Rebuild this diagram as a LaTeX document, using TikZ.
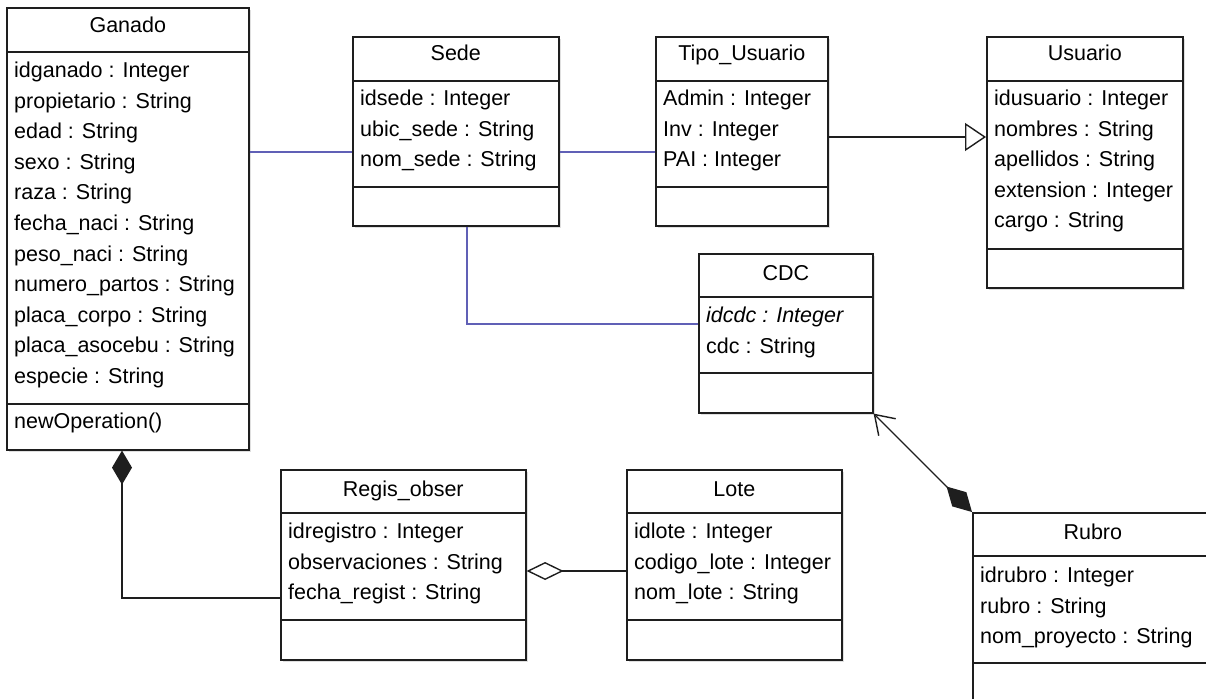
\documentclass[tikz,border=0pt]{standalone}
\usepackage{fontspec}
\setmainfont{Liberation Sans}
\usetikzlibrary{arrows.meta,shadows}

\definecolor{linkblue}{RGB}{96,96,182}
\definecolor{edge}{RGB}{30,30,30}
\newcommand\umlfont{\fontsize{21.5pt}{25pt}\selectfont}

\tikzset{
  classbox/.style={draw=edge, line width=1.6pt, fill=white, anchor=north west,
    inner sep=0pt, drop shadow={shadow xshift=2pt, shadow yshift=-2pt, opacity=0.25}},
  divider/.style={draw=edge, line width=1.4pt},
  ctitle/.style={anchor=base, inner sep=0pt, font=\umlfont},
  attr/.style={anchor=base west, inner sep=0pt, font=\umlfont},
  assoc/.style={draw=linkblue, line width=1.3pt},
  link/.style={draw=edge, line width=1.4pt},
}

\begin{document}
\begin{tikzpicture}[x=1pt, y=-1pt]
\useasboundingbox (0,0) rectangle (1206,698);
\clip (0,0) rectangle (1206,698);

% ---------- Ganado ----------
\node[classbox, minimum width=242pt, minimum height=442pt] (ganado) at (6,7) {};
\draw[divider] (ganado.west |- 0,52) -- (ganado.east |- 0,52);
\draw[divider] (ganado.west |- 0,404) -- (ganado.east |- 0,404);
\node[ctitle] (ganado-t) at (ganado.north |- 0,33) {Ganado};
\foreach \s [count=\i from 0] in {idganado : Integer, propietario : String,
    edad : String, sexo : String, raza : String, fecha\_naci : String,
    peso\_naci : String, numero\_partos : String, placa\_corpo : String,
    placa\_asocebu : String, especie : String}
  \node[attr] (ganado-a\i) at (14,{77.5+30.6*\i}) {\s};
\node[attr] (ganado-m) at (14,428.5) {newOperation()};

% ---------- Sede ----------
\node[classbox, minimum width=206pt, minimum height=189pt] (sede) at (352,36) {};
\draw[divider] (sede.west |- 0,81) -- (sede.east |- 0,81);
\draw[divider] (sede.west |- 0,187) -- (sede.east |- 0,187);
\node[ctitle] (sede-t) at (sede.north |- 0,61) {Sede};
\foreach \s [count=\i from 0] in {idsede : Integer, ubic\_sede : String, nom\_sede : String}
  \node[attr] (sede-a\i) at (360,{105.5+30.5*\i}) {\s};

% ---------- Tipo_Usuario ----------
\node[classbox, minimum width=172pt, minimum height=189pt] (tipo) at (655,36) {};
\draw[divider] (tipo.west |- 0,81) -- (tipo.east |- 0,81);
\draw[divider] (tipo.west |- 0,187) -- (tipo.east |- 0,187);
\node[ctitle] (tipo-t) at (tipo.north |- 0,61) {Tipo\_Usuario};
\foreach \s [count=\i from 0] in {Admin : Integer, Inv : Integer, PAI : Integer}
  \node[attr] (tipo-a\i) at (663,{105.5+30.5*\i}) {\s};

% ---------- Usuario ----------
\node[classbox, minimum width=196pt, minimum height=251pt] (usuario) at (986,36) {};
\draw[divider] (usuario.west |- 0,81) -- (usuario.east |- 0,81);
\draw[divider] (usuario.west |- 0,249) -- (usuario.east |- 0,249);
\node[ctitle] (usuario-t) at (usuario.north |- 0,61) {Usuario};
\foreach \s [count=\i from 0] in {idusuario : Integer, nombres : String,
    apellidos : String, extension : Integer, cargo : String}
  \node[attr] (usuario-a\i) at (994,{105.5+30.5*\i}) {\s};

% ---------- CDC ----------
\node[classbox, minimum width=174pt, minimum height=159pt] (cdc) at (698,253) {};
\draw[divider] (cdc.west |- 0,297) -- (cdc.east |- 0,297);
\draw[divider] (cdc.west |- 0,373) -- (cdc.east |- 0,373);
\node[ctitle] (cdc-t) at (cdc.north |- 0,280) {CDC};
\node[attr] (cdc-a0) at (706,322.5) {\itshape idcdc : Integer};
\node[attr] (cdc-a1) at (706,353) {cdc : String};

% ---------- Regis_obser ----------
\node[classbox, minimum width=245pt, minimum height=190pt] (regis) at (280,469) {};
\draw[divider] (regis.west |- 0,513) -- (regis.east |- 0,513);
\draw[divider] (regis.west |- 0,620) -- (regis.east |- 0,620);
\node[ctitle] (regis-t) at (regis.north |- 0,496) {Regis\_obser};
\foreach \s [count=\i from 0] in {idregistro : Integer, observaciones : String,
    fecha\_regist : String}
  \node[attr] (regis-a\i) at (288,{538.5+30.5*\i}) {\s};

% ---------- Lote ----------
\node[classbox, minimum width=215pt, minimum height=190pt] (lote) at (626,469) {};
\draw[divider] (lote.west |- 0,513) -- (lote.east |- 0,513);
\draw[divider] (lote.west |- 0,620) -- (lote.east |- 0,620);
\node[ctitle] (lote-t) at (lote.north |- 0,496) {Lote};
\foreach \s [count=\i from 0] in {idlote : Integer, codigo\_lote : Integer,
    nom\_lote : String}
  \node[attr] (lote-a\i) at (634,{538.5+30.5*\i}) {\s};

% ---------- Rubro ----------
\node[classbox, minimum width=240pt, minimum height=260pt] (rubro) at (972,512) {};
\draw[divider] (rubro.west |- 0,556) -- (rubro.east |- 0,556);
\draw[divider] (rubro.west |- 0,663) -- (rubro.east |- 0,663);
\node[ctitle] (rubro-t) at (rubro.north |- 0,539) {Rubro};
\foreach \s [count=\i from 0] in {idrubro : Integer, rubro : String,
    nom\_proyecto : String}
  \node[attr] (rubro-a\i) at (980,{582.5+30.5*\i}) {\s};

% ---------- Connectors ----------
\draw[assoc] (ganado.east |- 0,152) -- (sede.west |- 0,152);
\draw[assoc] (sede.east |- 0,152) -- (tipo.west |- 0,152);
\draw[assoc] (sede.south -| 467,0) |- (cdc.west |- 0,324);

\draw[link, -{Triangle[open, length=21pt, width=28pt, fill=white]}]
  (tipo.east |- 0,137) -- (usuario.west |- 0,137);

\draw[link, {Diamond[length=34pt, width=20pt]}-]
  (ganado.south -| 122,0) |- (regis.west |- 0,598);

\draw[link, {Diamond[open, length=37pt, width=18pt, fill=white]}-]
  (regis.east |- 0,571) -- (lote.west |- 0,571);

\draw[link, {Diamond[length=36pt, width=20pt]}-{Straight Barb[length=18pt, width=24pt]}]
  (rubro.north west) -- (cdc.south east);
\end{tikzpicture}
\end{document}
